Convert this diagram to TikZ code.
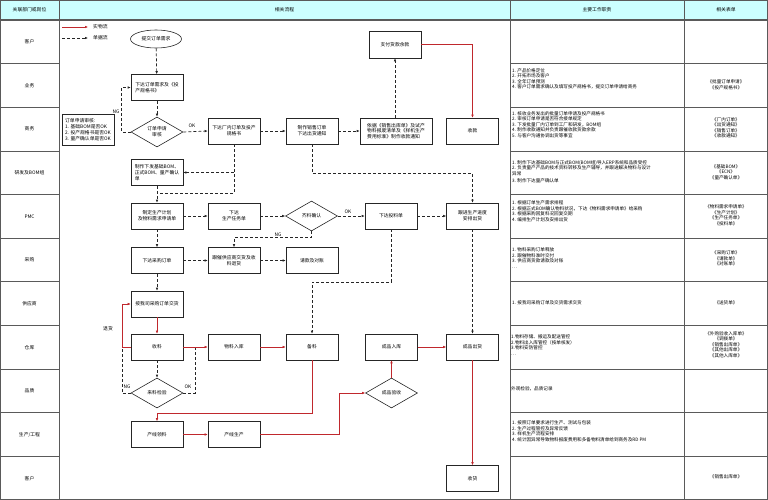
\documentclass[tikz,border=0pt]{standalone}
\usepackage{fontspec}
\setmainfont{Noto Sans CJK SC}
\usetikzlibrary{shapes.geometric,arrows.meta,shadows}
\definecolor{hdr}{HTML}{CCFFFF}
\definecolor{gridc}{HTML}{5A5A5A}
\definecolor{redf}{HTML}{C0282D}
\newcommand\myfs{\fontsize{4.8}{5.8}\selectfont}
\newcommand\myls{\fontsize{4.6}{5.5}\selectfont}
\tikzset{
  box/.style={draw=black!85, fill=white, line width=0.6pt, minimum width=52pt, minimum height=26pt, inner sep=1pt, font=\myfs, align=center, drop shadow={shadow xshift=0.8pt, shadow yshift=-0.8pt, fill=black!45, opacity=1}},
  dia/.style={diamond, draw=black!85, line width=0.6pt, minimum width=52pt, minimum height=30pt, inner sep=0pt, font=\myfs, align=center},
  ell/.style={ellipse, draw=black!85, line width=0.6pt, minimum width=51pt, minimum height=18pt, inner sep=0pt, font=\myfs},
  doc/.style={draw=black!85, line width=0.7pt, dash pattern=on 3pt off 2pt, -{Latex[length=3pt,width=2.6pt]}},
  docl/.style={draw=black!85, line width=0.7pt, dash pattern=on 3pt off 2pt},
  mat/.style={draw=redf, line width=0.55pt, -{Latex[length=3pt,width=2.6pt]}},
  matl/.style={draw=redf, line width=0.55pt},
  lbl/.style={font=\myfs, inner sep=0pt},
  resp/.style={font=\myls, align=left, anchor=north west, inner sep=0pt},
  form/.style={font=\myls, align=center, inner sep=0pt},
  grid/.style={draw=gridc, line width=0.8pt}
}
\begin{document}
\begin{tikzpicture}[x=1pt,y=-1pt]
\useasboundingbox (0,0) rectangle (768,500);
% table
\fill[hdr] (0,0) rectangle (768,20);
\draw[grid, line width=1.2pt] (0.6,0.6) rectangle (767.4,499.4);
\draw[grid, line width=1.6pt] (0,20) -- (768,20);
\foreach \xx in {59,510,684} \draw[grid] (\xx,0) -- (\xx,500);
\foreach \i in {1,...,10} {
  \draw[grid] (0,{20+43.636*\i}) -- (59,{20+43.636*\i});
  \draw[grid] (510,{20+43.636*\i}) -- (768,{20+43.636*\i});
}
% header
\node[lbl] (h1) at (29.5,10) {关联部门或岗位};
\node[lbl] (h2) at (284.5,10) {相关流程};
\node[lbl] (h3) at (597,10) {主要工作职责};
\node[lbl] (h4) at (726,10) {相关表单};
% row labels
\node[lbl] (c1) at (29.5,41.8) {客户};
\node[lbl] (c2) at (29.5,85.5) {业务};
\node[lbl] (c3) at (29.5,129.1) {商务};
\node[lbl] (c4) at (29.5,172.7) {研发及BOM组};
\node[lbl] (c5) at (29.5,216.4) {PMC};
\node[lbl] (c6) at (29.5,260) {采购};
\node[lbl] (c7) at (29.5,303.6) {供应商};
\node[lbl] (c8) at (29.5,347.3) {仓库};
\node[lbl] (c9) at (29.5,390.9) {品质};
\node[lbl] (c10) at (29.5,434.5) {生产/工程};
\node[lbl] (c11) at (29.5,478.2) {客户};
% legend
\coordinate (l1a) at (62,27); \coordinate (l1b) at (88,27);
\coordinate (l2a) at (62,38); \coordinate (l2b) at (88,38);
\draw[mat] (l1a) -- (l1b);
\draw[doc] (l2a) -- (l2b);
\node[lbl, anchor=west] (lg1) at (93,27) {实物流};
\node[lbl, anchor=west] (lg2) at (93,38) {单据流};
% flow nodes
\node[ell] (start) at (156,39) {提交订单需求};
\node[box, align=left] (n1) at (157,87.5) {下达订单需求及《投\\产规格书》};
\node[dia] (d1) at (157,132) {订单申请\\审核};
\node[box, minimum height=31pt, align=left] (side) at (88,129.5) {订单申请审核:\\1. 基础BOM是否OK\\2. 投产规格书是否OK\\3. 量产确认单是否OK};
\node[box] (n2) at (234,131) {下达厂内订单及投产\\规格书};
\node[box] (n3) at (312,131) {制作销售订单\\下达出货通知};
\node[box, minimum width=72pt, align=left] (n4) at (396,131) {依据《销售出库单》及试产\\物料报废清单及《样机生产\\费用标准》制作收款通知};
\node[box, minimum height=27pt] (pay) at (395,44.5) {支付货款余款};
\node[box] (rec) at (472.5,131) {收款};
\node[box, align=left] (bom) at (157,172.5) {制作下发基础BOM、\\正式BOM、量产确认\\单};
\node[box] (plan) at (157,216) {制定生产计划\\及物料需求申请单};
\node[box] (task) at (234,216) {下达\\生产任务单};
\node[dia] (d2) at (311.5,216) {齐料确认};
\node[box] (feed) at (391,216) {下达投料单};
\node[box] (follow) at (472.5,216) {跟进生产进度\\安排出货};
\node[box] (po) at (157,260.5) {下达采购订单};
\node[box] (chase) at (234,260.5) {跟催供应商交货及收\\料退货};
\node[box] (pay2) at (312,260.5) {请款及对账};
\node[box] (deliver) at (157,304) {按我司采购订单交货};
\node[box] (recv) at (157,347) {收料};
\node[box] (stock) at (234,347) {物料入库};
\node[box] (prep) at (312,347) {备料};
\node[box] (fin) at (391.5,347) {成品入库};
\node[box] (ship) at (472.5,347) {成品出货};
\node[dia] (d3) at (157,393) {来料检验};
\node[dia] (d4) at (391.5,393) {成品验收};
\node[box] (pick) at (157,434.5) {产线领料};
\node[box] (prod) at (234,434.5) {产线生产};
\node[box] (get) at (472.5,478.5) {收货};
% helper coordinates
\coordinate (j1) at (234,193);
\coordinate (j2) at (157,193);
\coordinate (j3) at (312,173);
\coordinate (j4) at (391,282);
\coordinate (j5) at (122,347);
\coordinate (j6) at (195,347);
\coordinate (j7) at (312,413);
\coordinate (j8) at (339,434.5);
% document flow
\draw[doc] (start) -- (n1);
\draw[doc] (n1) -- (d1);
\draw[doc] (d1.west) -- ++(-9,0) |- (n1.west);
\draw[doc] (d1.east) -- (n2.west);
\draw[doc] (n2) -- (n3);
\draw[doc] (n3) -- (n4);
\draw[doc] (n4.north -| pay.south) -- (pay.south);
\draw[docl] (n2.south) -- (j1) -- (j2);
\draw[doc] (n2.south |- bom.east) -- (bom.east);
\draw[doc] (bom) -- (plan);
\draw[doc] (n3.south) -- (j3) -| (follow.north);
\draw[doc] (plan) -- (task);
\draw[doc] (task) -- (d2);
\draw[doc] (d2) -- (feed);
\draw[doc] (feed) -- (follow);
\draw[doc] (d2.south) -- ++(0,6) -| (chase.north);
\draw[doc] (plan) -- (po);
\draw[doc] (po) -- (chase);
\draw[doc] (chase) -- (pay2);
\draw[doc] (po) -- (deliver);
\draw[doc] (feed.south) -- (j4) -| (prep.north);
\draw[doc] (follow) -- (ship);
\draw[doc] (recv) -- (d3);
\draw[docl] (d3.west) -| (j5);
\draw[docl] (d3.east) -| (j6);
% material flow
\draw[mat] (pay.east) -| (rec.north);
\draw[mat] (deliver) -- (recv);
\draw[mat] (recv.west) -- (j5) |- (deliver.west);
\draw[mat] (recv) -- (stock);
\draw[mat] (stock) -- (prep);
\draw[mat] (fin) -- (ship);
\draw[mat] (d4) -- (fin);
\draw[mat] (prep.south) -- (j7) -| (pick.north);
\draw[mat] (pick) -- (prod);
\draw[mat] (prod.east) -- (j8) |- (d4.west);
\draw[mat] (ship) -- (get);
% labels
\node[lbl] (t1) at (116,112) {NG};
\node[lbl] (t2) at (192,126) {OK};
\node[lbl] (t3) at (348,212) {OK};
\node[lbl] (t4) at (278,235) {NG};
\node[lbl] (t5) at (108,329) {退货};
\node[lbl] (t6) at (127,387) {NG};
\node[lbl] (t7) at (188,387) {OK};
% responsibilities
\node[resp] (r1) at (512,68) {1. 产品价格定位\\2. 开拓市场及客户\\3. 全年订单预测\\4. 客户订单需求确认及填写投产规格书，提交订单申请给商务};
\node[resp] (r2) at (512,111) {1. 核收业务发出的批量订单申请及投产规格书\\2. 审核订单申请是否符合接单规定\\3. 下发批量厂内订单到工厂和研发，BOM组\\4. 制作收款通知并负责跟催收款货款余款\\5. 与客户沟通协调出货等事宜};
\node[resp] (r3) at (512,160) {1. 制作下达基础BOM与正式BOM(BOM组)导入ERP系统和品质受控\\2. 负责量产产品的技术资料转移及生产辅导，并跟进解决物料与设计\\异常\\[2pt]3. 制作下达量产确认单};
\node[resp] (r4) at (512,200.5) {1. 根据订单生产需求排程\\2. 根据正式BOM确认物料状况，下达《物料需求申请单》给采购\\3. 根据采购回复料况回复交期\\4. 编排生产计划及安排出货};
\node[resp] (r5) at (512,247.5) {1. 物料采购订单释放\\2. 跟催物料准时交付\\3. 供应商货款请款及对账\\…};
\node[resp, anchor=west] (r6) at (512,303) {1. 按我司采购订单及交货需求交货};
\node[resp] (r7) at (511,334.5) {1.物料存储、搬运及配送管控\\2.物料出入库管控（按单核发）\\3.物料安防管控\\…};
\node[resp, anchor=west] (r8) at (511,389) {外观检验，品质记录};
\node[resp] (r9) at (512,420.5) {1. 按照订单要求进行生产、测试与包装\\2. 生产过程管控及异常反馈\\3. 样机生产流程安排\\4. 统计因异常导致物料报废费用和多备物料清单给到商务及RD PM};
% forms
\node[form] (f1) at (726,85) {《批量订单申请》\\《投产规格书》};
\node[form] (f2) at (726,128) {《厂内订单》\\《出货通知》\\《销售订单》\\《收款通知》};
\node[form] (f3) at (726,172) {《基础BOM》\\《ECN》\\《量产确认单》};
\node[form] (f4) at (726,215.5) {《物料需求申请单》\\《生产计划》\\《生产任务单》\\《投料单》};
\node[form] (f5) at (726,258.5) {《采购订单》\\《请款单》\\《对账单》};
\node[form] (f6) at (726,303) {《送货单》};
\node[form] (f7) at (726,344.5) {《外购验收入库单》\\《调拨单》\\《销售出库单》\\《其他出库单》\\《其他入库单》};
\node[form] (f8) at (726,477) {《销售出库单》};
\end{tikzpicture}
\end{document}
